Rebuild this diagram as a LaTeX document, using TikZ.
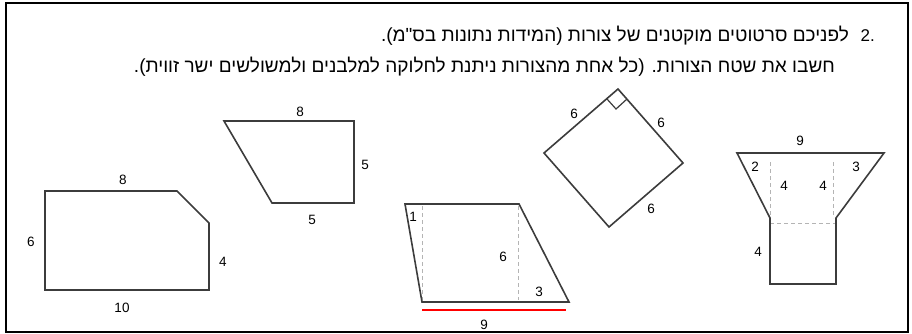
\documentclass[tikz,border=0pt]{standalone}
\usepackage{fontspec}
\setmainfont{Liberation Sans}
\newfontfamily\hebfont[Script=Hebrew]{Liberation Sans}
\TeXXeTstate=1
\usetikzlibrary{positioning}
\definecolor{ln}{RGB}{60,60,60}
\definecolor{dl}{RGB}{180,180,180}
\tikzset{fig/.style={draw=ln,line width=1.6pt},
 aux/.style={draw=dl,line width=.8pt,dash pattern=on 4pt off 3pt},
 lbl/.style={font=\fontsize{13.5}{15}\selectfont,inner sep=0pt},
 heb/.style={font=\hebfont\fontsize{19}{22}\selectfont,inner sep=0pt}}

\begin{document}
\begin{tikzpicture}[x=1pt,y=-1pt]
\useasboundingbox (0,0) rectangle (912,334);
\draw[line width=1.8pt] (6,3) rectangle (908,332);
% question text
\node[lbl,font=\fontsize{17}{20}\selectfont,anchor=east] (num) at (875,36) {\beginL 2.\endL};
\node[heb,anchor=east] (q1) at (849,36) {\beginR לפניכם סרטוטים מוקטנים של צורות (המידות נתונות בס"מ).\endR};
\node[heb,anchor=east] (q2) at (835,67) {\beginR חשבו את שטח הצורות. (כל אחת מהצורות ניתנת לחלוקה למלבנים ולמשולשים ישר זווית).\endR};
% shape 1
\draw[fig] (45,191) -- (177,191) -- (209,223) -- (209,290) -- (45,290) -- cycle;
\node[lbl] (a8) at (123,180) {8};
\node[lbl] (a6) at (31,242) {6};
\node[lbl] (a4) at (223,262) {4};
\node[lbl] (a10) at (122,308) {10};
% shape 2
\draw[fig] (224,121) -- (354,121) -- (354,203) -- (272,203) -- cycle;
\node[lbl] (b8) at (300,112) {8};
\node[lbl] (b5r) at (365,165) {5};
\node[lbl] (b5b) at (312,220) {5};
% shape 3
\draw[aux] (422,206) -- (422,300);
\draw[aux] (518,206) -- (518,300);
\draw[fig] (405,204) -- (519,204) -- (569,302) -- (422,302) -- cycle;
\draw[red,line width=1.3pt] (422,310) -- (566,310);
\node[lbl] (c1) at (413,217) {1};
\node[lbl] (c6) at (503,257) {6};
\node[lbl] (c3) at (539,292) {3};
\node[lbl] (c9) at (484,325) {9};
% shape 4
\draw[fig] (618,89) -- (683,163) -- (609,227) -- (544,153) -- cycle;
\draw[fig,line width=1.2pt] (607,99) -- (616,109) -- (627,99);
\node[lbl] (d6a) at (574,114) {6};
\node[lbl] (d6b) at (661,123) {6};
\node[lbl] (d6c) at (651,209) {6};
% shape 5
\draw[aux] (770,162) -- (770,218);
\draw[aux] (833,162) -- (833,218);
\draw[aux] (770,223) -- (836,223);
\draw[fig] (737,153) -- (884,153) -- (836,218) -- (836,284) -- (770,284) -- (770,218) -- cycle;
\node[lbl] (e9) at (800,141) {9};
\node[lbl] (e2) at (755,167) {2};
\node[lbl] (e3) at (856,167) {3};
\node[lbl] (e4a) at (784,186) {4};
\node[lbl] (e4b) at (823,186) {4};
\node[lbl] (e4c) at (758,252) {4};
\end{tikzpicture}
\end{document}
